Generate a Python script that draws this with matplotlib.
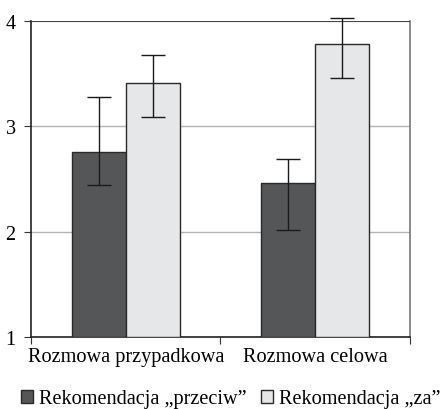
import matplotlib
matplotlib.use("Agg")
import matplotlib.pyplot as plt
import numpy as np

plt.rcParams["font.family"] = ["Liberation Serif", "DejaVu Serif"]

categories = ["Rozmowa przypadkowa", "Rozmowa celowa"]
series = ["Rekomendacja \u201eprzeciw\u201d", "Rekomendacja \u201eza\u201d"]
means_against = [2.76, 2.46]
means_for = [3.41, 3.78]
err_against_low = [0.32, 0.44]
err_against_high = [0.52, 0.23]
err_for_low = [0.32, 0.32]
err_for_high = [0.27, 0.25]

dark = "#545658"
light = "#e6e7e9"
fs = 14.6

fig = plt.figure(figsize=(4.44, 4.10), dpi=100)
ax = fig.add_axes([0.0698, 0.1756, 0.8536, 0.7708])

x = np.arange(len(categories))
w = 0.286
ax.bar(x - w / 2, np.array(means_against) - 1, w, bottom=1, color=dark,
       edgecolor="#2a2a2a", linewidth=1.0, label=series[0], zorder=3)
ax.bar(x + w / 2, np.array(means_for) - 1, w, bottom=1, color=light,
       edgecolor="#2a2a2a", linewidth=1.0, label=series[1], zorder=3)
for xs, m, lo, hi in [(x - w / 2, means_against, err_against_low, err_against_high),
                      (x + w / 2, means_for, err_for_low, err_for_high)]:
    eb = ax.errorbar(xs, m, yerr=[lo, hi], fmt="none", ecolor="#1a1a1a",
                     elinewidth=1.0, capsize=8.6, capthick=1.0, zorder=6)
    for art in eb.lines[1] + eb.lines[2]:
        art.set_clip_on(False)

ax.set_ylim(1, 4)
ax.set_xlim(-0.5, 1.5)
ax.set_yticks([1, 2, 3, 4])
ax.set_yticklabels(["1", "2", "3", "4"], fontsize=fs)
ax.yaxis.grid(True, color="#b4b4b4", linewidth=1.0, zorder=0)
ax.axhline(4, color="#333333", linewidth=1.2, zorder=5)

ax.set_xticks([-0.5, 0.5, 1.5])
ax.set_xticklabels([])
ax.set_xticks(x, minor=True)
ax.set_xticklabels(categories, minor=True, fontsize=fs)
ax.tick_params(axis="x", which="minor", length=0, pad=7)
ax.tick_params(axis="x", which="major", length=5, direction="out", color="#333333")
ax.tick_params(axis="y", length=5, direction="out", color="#333333", pad=6)

for s in ["left", "bottom"]:
    ax.spines[s].set_color("#222222")
    ax.spines[s].set_linewidth(1.2)
ax.spines["top"].set_visible(False)
ax.spines["right"].set_color("#777777")
ax.spines["right"].set_linewidth(1.2)

fig.legend(loc="center", bbox_to_anchor=(0.52, 0.025), ncol=2, frameon=False,
           fontsize=fs, handlelength=0.6, handleheight=0.6, handletextpad=0.3,
           columnspacing=0.7, borderpad=0, borderaxespad=0)

fig.savefig("out.png", dpi=100)
